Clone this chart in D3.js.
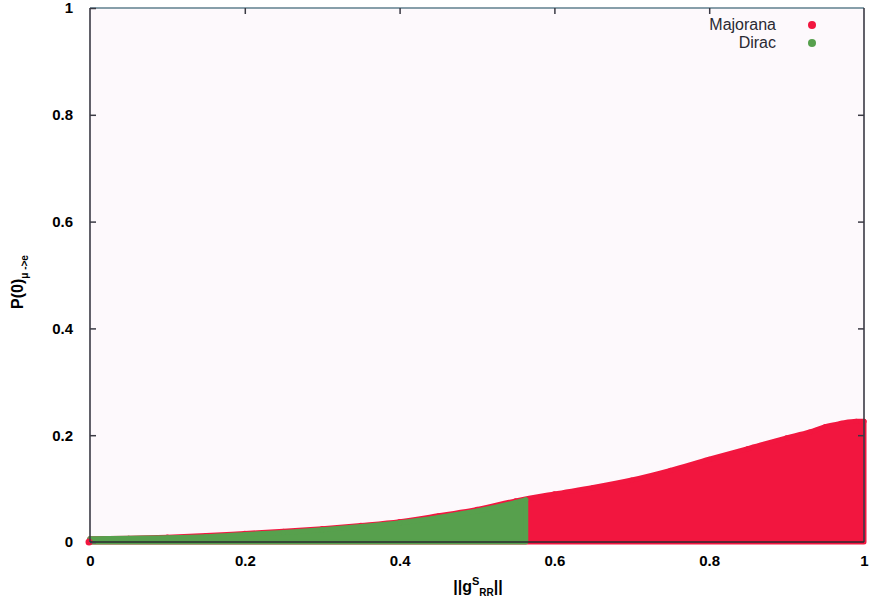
<!DOCTYPE html>
<html><head><meta charset="utf-8">
<script src="https://cdn.jsdelivr.net/npm/d3@7"></script>
<style>body{margin:0;background:#fff}svg{display:block}text{font-family:"Liberation Sans",Arial,sans-serif}</style>
</head><body><svg id="c" width="870" height="605"></svg>
<script>
// Upper envelope of the scatter regions
const majoranaX = [0,0.05,0.1,0.15,0.2,0.25,0.3,0.35,0.4,0.45,0.5,0.55,0.6,0.65,0.7,0.75,0.8,0.85,0.9,0.93,0.95,0.97,0.99,1.0];
const majoranaY = [0.006,0.007,0.009,0.012,0.016,0.020,0.025,0.031,0.038,0.049,0.061,0.077,0.090,0.102,0.116,0.134,0.155,0.175,0.195,0.206,0.216,0.222,0.226,0.226];
const diracX = [0,0.05,0.1,0.15,0.2,0.25,0.3,0.35,0.4,0.45,0.5,0.55,0.563];
const diracY = [0.006,0.007,0.008,0.010,0.014,0.018,0.023,0.029,0.036,0.046,0.058,0.074,0.079];
const xTicks = [0,0.2,0.4,0.6,0.8,1];
const yTicks = [0,0.2,0.4,0.6,0.8,1];
const xTickLabels = ["0","0.2","0.4","0.6","0.8","1"];
const yTickLabels = ["0","0.2","0.4","0.6","0.8","1"];
const seriesNames = ["Majorana","Dirac"];
const seriesColors = ["#f2163f","#57a04d"];

const svg = d3.select("#c");
const L=90,R=864,T=8,B=542;
const x = d3.scaleLinear().domain([0,1]).range([L,R]);
const y = d3.scaleLinear().domain([0,1]).range([B,T]);

svg.append("rect").attr("x",L).attr("y",T).attr("width",R-L).attr("height",B-T).attr("fill","#fdf9fc");

function drawSeries(xs, ys, color){
  const data = xs.map((v,i)=>[v,ys[i]]);
  const area = d3.area().x(d=>x(d[0])).y0(y(0)).y1(d=>y(d[1])).curve(d3.curveMonotoneX);
  svg.append("path").datum(data).attr("d",area).attr("fill",color)
    .attr("stroke",color).attr("stroke-width",5).attr("stroke-linejoin","round");
  svg.append("g").selectAll("circle").data(data).join("circle")
    .attr("cx",d=>x(d[0])).attr("cy",d=>y(d[1])).attr("r",2.6).attr("fill",color);
}
drawSeries(majoranaX, majoranaY, seriesColors[0]);
drawSeries(diracX, diracY, seriesColors[1]);
// single Majorana point at origin
svg.append("circle").attr("cx",x(0)-1).attr("cy",y(0)).attr("r",3.5).attr("fill",seriesColors[0]);

// frame
const frame = svg.append("g").attr("fill","none").attr("stroke-width",1.6);
frame.append("line").attr("x1",L).attr("x2",R).attr("y1",T).attr("y2",T).attr("stroke","#5f7f8e");
frame.append("line").attr("x1",R).attr("x2",R).attr("y1",T).attr("y2",B).attr("stroke","#3a3a44");
frame.append("line").attr("x1",L).attr("x2",L).attr("y1",T).attr("y2",B).attr("stroke","#3a3a44");
frame.append("line").attr("x1",L).attr("x2",R).attr("y1",B).attr("y2",B).attr("stroke","#2a2a30");

// axes with inward ticks
const yAxis = d3.axisLeft(y).tickValues(yTicks).tickFormat((d,i)=>yTickLabels[i]).tickSizeInner(-6).tickSizeOuter(0).tickPadding(17);
const gy = svg.append("g").attr("transform",`translate(${L},0)`).call(yAxis);
gy.select(".domain").remove();
gy.selectAll(".tick line").attr("stroke","#3a3a44").attr("stroke-width",1.5);
gy.selectAll(".tick text").attr("font-size",15).attr("font-weight","bold").attr("fill","#000");

const yAxisR = d3.axisRight(y).tickValues(yTicks.slice(1,-1)).tickFormat("").tickSizeInner(-6).tickSizeOuter(0);
const gyr = svg.append("g").attr("transform",`translate(${R},0)`).call(yAxisR);
gyr.select(".domain").remove();
gyr.selectAll(".tick line").attr("stroke","#3a3a44").attr("stroke-width",1.5);

const xAxis = d3.axisBottom(x).tickValues(xTicks).tickFormat((d,i)=>xTickLabels[i]).tickSizeInner(0).tickSizeOuter(0).tickPadding(13);
const gx = svg.append("g").attr("transform",`translate(0,${B})`).call(xAxis);
gx.select(".domain").remove();
gx.selectAll(".tick text").attr("font-size",15).attr("font-weight","bold").attr("fill","#000");

const xAxisT = d3.axisTop(x).tickValues(xTicks.slice(1,-1)).tickFormat("").tickSizeInner(-6).tickSizeOuter(0);
const gxt = svg.append("g").attr("transform",`translate(0,${T})`).call(xAxisT);
gxt.select(".domain").remove();
gxt.selectAll(".tick line").attr("stroke","#3a3a44").attr("stroke-width",1.5);

// axis titles
const yt = svg.append("text").attr("transform","translate(23,282) rotate(-90)")
  .attr("text-anchor","middle").attr("font-weight","bold").attr("font-size",16).attr("fill","#000");
yt.append("tspan").text("P(0)");
yt.append("tspan").attr("dy",5).attr("font-size",10).text("μ ->e");

const xt = svg.append("text").attr("x",478).attr("y",592).attr("text-anchor","middle")
  .attr("font-weight","bold").attr("font-size",16).attr("fill","#000");
xt.append("tspan").text("||g");
xt.append("tspan").attr("dy",-7).attr("font-size",11).text("S");
xt.append("tspan").attr("dy",11).attr("font-size",10).text("RR");
xt.append("tspan").attr("dy",-4).text("||");

// legend
const lg = svg.append("g");
seriesNames.forEach((n,i)=>{
  lg.append("text").attr("x",776).attr("y",30+i*18).attr("text-anchor","end")
    .attr("font-size",16).attr("fill","#2a2a33").text(n);
  lg.append("circle").attr("cx",812).attr("cy",25+i*18).attr("r",4).attr("fill",seriesColors[i]);
});
</script></body></html>
